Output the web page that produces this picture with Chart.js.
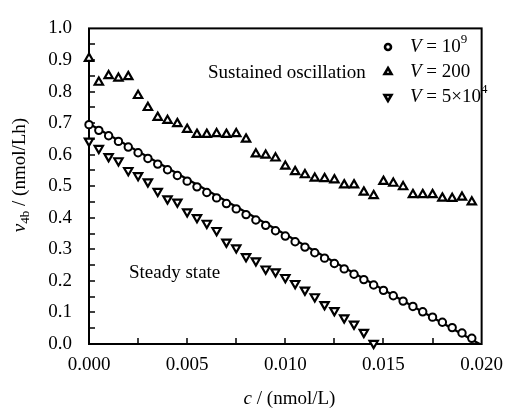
<!DOCTYPE html>
<html>
<head>
<meta charset="utf-8">
<script src="https://cdn.jsdelivr.net/npm/chart.js@4.4.0/dist/chart.umd.min.js"></script>
<style>
    html, body { margin: 0; padding: 0; background: #fff; }
    #wrap { width: 513px; height: 410px; }
</style>
</head>
<body>
<div id="wrap"><canvas id="chart" width="513" height="410"></canvas></div>
<script>
// c / (nmol/L)
const cValues = [
    0.0000, 0.0005, 0.0010, 0.0015, 0.0020, 0.0025, 0.0030, 0.0035, 0.0040, 0.0045,
    0.0050, 0.0055, 0.0060, 0.0065, 0.0070, 0.0075, 0.0080, 0.0085, 0.0090, 0.0095,
    0.0100, 0.0105, 0.0110, 0.0115, 0.0120, 0.0125, 0.0130, 0.0135, 0.0140, 0.0145,
    0.0150, 0.0155, 0.0160, 0.0165, 0.0170, 0.0175, 0.0180, 0.0185, 0.0190, 0.0195
];

// V = 10^9
const v4bV1e9 = [
    0.695, 0.677, 0.660, 0.642, 0.624, 0.606, 0.588, 0.570, 0.552, 0.534,
    0.516, 0.498, 0.480, 0.463, 0.445, 0.428, 0.410, 0.393, 0.376, 0.359,
    0.342, 0.324, 0.307, 0.289, 0.272, 0.255, 0.238, 0.221, 0.204, 0.187,
    0.170, 0.153, 0.136, 0.119, 0.102, 0.085, 0.069, 0.052, 0.035, 0.018
];

// V = 200
const v4bV200 = [
    0.905, 0.829, 0.850, 0.842, 0.847, 0.787, 0.749, 0.718, 0.708, 0.698,
    0.680, 0.664, 0.664, 0.666, 0.664, 0.666, 0.649, 0.602, 0.598, 0.589,
    0.563, 0.546, 0.536, 0.525, 0.524, 0.520, 0.504, 0.504, 0.481, 0.470,
    0.515, 0.509, 0.498, 0.473, 0.473, 0.473, 0.462, 0.461, 0.465, 0.450
];

// V = 5x10^4 (stops at c = 0.0145)
const v4bV5e4 = [
    0.643, 0.620, 0.594, 0.581, 0.550, 0.534, 0.514, 0.484, 0.460, 0.450,
    0.419, 0.401, 0.383, 0.360, 0.323, 0.305, 0.277, 0.264, 0.238, 0.229,
    0.211, 0.192, 0.171, 0.150, 0.125, 0.106, 0.083, 0.063, 0.037, 0.002
];

// straight line through the V = 10^9 points
const fitX = [0, 0.0199];
const fitY = [0.698, 0.0];

const xTickValues = [0, 0.005, 0.010, 0.015, 0.020];
const xTickLabels = ['0.000', '0.005', '0.010', '0.015', '0.020'];
const yTickValues = [0, 0.1, 0.2, 0.3, 0.4, 0.5, 0.6, 0.7, 0.8, 0.9, 1.0];
const yTickLabels = ['0.0', '0.1', '0.2', '0.3', '0.4', '0.5', '0.6', '0.7', '0.8', '0.9', '1.0'];

const SERIF = "'Liberation Serif', 'Times New Roman', serif";
const FS = 19;

function points(xs, ys) {
    return ys.map((y, i) => ({ x: xs[i], y: y }));
}

// draw text made of runs (italic / sub / sup pieces)
function drawRuns(ctx, runs, x, y) {
    runs.forEach(r => {
        ctx.font = (r.italic ? 'italic ' : '') + (r.size || FS) + 'px ' + SERIF;
        ctx.fillText(r.t, x, y + (r.dy || 0));
        x += ctx.measureText(r.t).width;
    });
    return x;
}

function runsWidth(ctx, runs) {
    let w = 0;
    runs.forEach(r => {
        ctx.font = (r.italic ? 'italic ' : '') + (r.size || FS) + 'px ' + SERIF;
        w += ctx.measureText(r.t).width;
    });
    return w;
}

const decorations = {
    id: 'decorations',
    beforeDatasetsDraw(chart) {
        const { ctx, chartArea: a, scales: { x, y } } = chart;
        ctx.save();
        ctx.strokeStyle = '#000';
        ctx.lineWidth = 2;
        ctx.strokeRect(a.left, a.top, a.right - a.left, a.bottom - a.top);

        // inward tick marks, major and minor
        ctx.lineWidth = 1.5;
        ctx.beginPath();
        for (let i = 1; i < 8; i++) {
            const px = Math.round(x.getPixelForValue(i * 0.0025));
            ctx.moveTo(px, a.bottom);
            ctx.lineTo(px, a.bottom - 6);
        }
        for (let i = 1; i < 20; i++) {
            const py = Math.round(y.getPixelForValue(i * 0.05));
            ctx.moveTo(a.left, py);
            ctx.lineTo(a.left + 6, py);
        }
        ctx.stroke();
        ctx.restore();
    },
    afterDraw(chart) {
        const { ctx } = chart;
        ctx.save();
        ctx.fillStyle = '#000';
        ctx.textAlign = 'left';
        ctx.textBaseline = 'middle';

        // annotations
        drawRuns(ctx, [{ t: 'Sustained oscillation' }], 208, 73);
        drawRuns(ctx, [{ t: 'Steady state' }], 129, 273);

        // legend
        const legendRows = [
            { style: 'circle', rotation: 0, runs: [{ t: 'V', italic: true }, { t: ' = 10' }, { t: '9', size: 13, dy: -7 }] },
            { style: 'triangle', rotation: 0, runs: [{ t: 'V', italic: true }, { t: ' = 200' }] },
            { style: 'triangle', rotation: 180, runs: [{ t: 'V', italic: true }, { t: ' = 5×10' }, { t: '4', size: 13, dy: -7 }] }
        ];
        legendRows.forEach((row, i) => {
            const cy = 47 + i * 25;
            ctx.fillStyle = '#fff';
            ctx.strokeStyle = '#000';
            ctx.lineWidth = 2.6;
            Chart.helpers.drawPoint(ctx, { pointStyle: row.style, radius: row.style === 'circle' ? 3 : 4, borderWidth: 2.6, rotation: row.rotation }, 388, cy);
            ctx.fillStyle = '#000';
            drawRuns(ctx, row.runs, 410, cy);
        });

        // axis titles
        ctx.textBaseline = 'alphabetic';
        const xTitle = [{ t: 'c', italic: true }, { t: ' / (nmol/L)' }];
        drawRuns(ctx, xTitle, 289.5 - runsWidth(ctx, xTitle) / 2, 404);

        const yTitle = [{ t: 'v', italic: true }, { t: '4b', size: 13, dy: 4 }, { t: ' / (nmol/Lh)' }];
        ctx.translate(25, 175);
        ctx.rotate(-Math.PI / 2);
        drawRuns(ctx, yTitle, -runsWidth(ctx, yTitle) / 2, 0);
        ctx.restore();
    }
};

const markerBase = {
    showLine: false,
    backgroundColor: '#fff',
    borderColor: '#000',
    clip: false
};

const ctx = document.getElementById('chart').getContext('2d');
new Chart(ctx, {
    type: 'scatter',
    data: {
        datasets: [
            Object.assign({}, markerBase, {
                label: 'V = 10^9',
                data: points(cValues, v4bV1e9),
                pointStyle: 'circle',
                pointRadius: 3.7,
                pointBorderWidth: 2
            }),
            Object.assign({}, markerBase, {
                label: 'V = 200',
                data: points(cValues, v4bV200),
                pointStyle: 'triangle',
                pointRadius: 4.8,
                pointBorderWidth: 2.2
            }),
            Object.assign({}, markerBase, {
                label: 'V = 5x10^4',
                data: points(cValues, v4bV5e4),
                pointStyle: 'triangle',
                rotation: 180,
                pointRadius: 4.8,
                pointBorderWidth: 2.2
            }),
            {
                label: 'fit',
                data: points(fitX, fitY),
                showLine: true,
                borderColor: '#000',
                borderWidth: 2.2,
                pointRadius: 0,
                clip: false
            }
        ]
    },
    options: {
        responsive: false,
        animation: false,
        layout: { padding: { top: 21, right: 24, left: 0, bottom: 0 } },
        plugins: {
            legend: { display: false },
            tooltip: { enabled: false }
        },
        scales: {
            x: {
                type: 'linear',
                min: 0,
                max: 0.02,
                grid: { display: false, drawTicks: false },
                border: { display: false },
                afterBuildTicks: s => { s.ticks = xTickValues.map(v => ({ value: v })); },
                afterFit: s => { s.height = 66; },
                ticks: {
                    autoSkip: false,
                    maxRotation: 0,
                    padding: 10,
                    color: '#000',
                    font: { family: SERIF, size: FS },
                    callback: (v, i) => xTickLabels[i]
                }
            },
            y: {
                type: 'linear',
                min: 0,
                max: 1.0,
                grid: { display: false, drawTicks: false },
                border: { display: false },
                afterBuildTicks: s => { s.ticks = yTickValues.map(v => ({ value: v })); },
                afterFit: s => { s.width = 89; },
                ticks: {
                    autoSkip: false,
                    padding: 17,
                    color: '#000',
                    font: { family: SERIF, size: FS },
                    callback: (v, i) => yTickLabels[i]
                }
            }
        }
    },
    plugins: [decorations]
});
</script>
</body>
</html>
